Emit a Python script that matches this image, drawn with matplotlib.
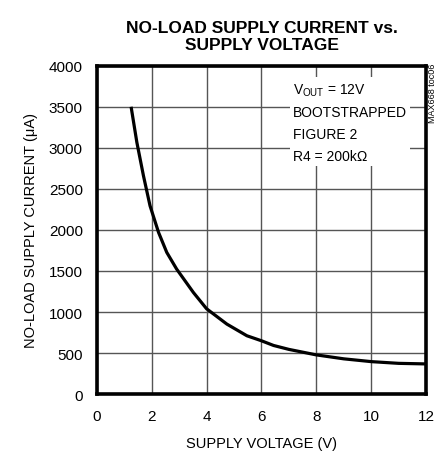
import numpy as np
import matplotlib.pyplot as plt

# supply voltage (V) vs no-load supply current (uA)
volts = [1.25, 1.46, 1.70, 1.94, 2.25, 2.55, 2.91, 3.52, 4.0, 4.74, 5.47, 6.0, 6.44, 7.0,
         8.0, 9.0, 10.0, 11.0, 12.0]
current = [3500, 3066, 2660, 2294, 1970, 1726, 1523, 1238, 1040, 853, 711, 650, 593, 545,
           478, 430, 396, 375, 368]

xticks = [0, 2, 4, 6, 8, 10, 12]
yticks = [0, 500, 1000, 1500, 2000, 2500, 3000, 3500, 4000]

fam = ['Liberation Sans', 'DejaVu Sans']

fig = plt.figure(figsize=(4.42, 4.60), dpi=100)
ax = fig.add_axes([0.219, 0.141, 0.745, 0.714])

ax.plot(volts, current, color='black', lw=2.3, solid_capstyle='butt', zorder=3)

ax.set_xlim(0, 12)
ax.set_ylim(0, 4000)
ax.set_xticks(xticks)
ax.set_yticks(yticks)
ax.grid(True, color='#555555', lw=1.0)
ax.tick_params(length=0, labelsize=11)
ax.tick_params(axis='x', pad=11)
ax.tick_params(axis='y', pad=10)
for lab in ax.get_xticklabels() + ax.get_yticklabels():
    lab.set_family(fam)
for s in ax.spines.values():
    s.set_linewidth(2.6)

ax.set_xlabel('SUPPLY VOLTAGE (V)', family=fam, fontsize=10.5, labelpad=9)
ax.set_ylabel('NO-LOAD SUPPLY CURRENT (μA)', family=fam, fontsize=10.5, labelpad=8)
ax.set_title('NO-LOAD SUPPLY CURRENT vs.\nSUPPLY VOLTAGE', family=fam, fontsize=12.5,
             fontweight='bold', pad=12, linespacing=1.15)

ax.text(7.15, 3810, 'V$_{\\mathregular{OUT}}$ = 12V\nBOOTSTRAPPED\nFIGURE 2\nR4 = 200kΩ',
        family=fam, fontsize=10, va='top', ha='left', linespacing=1.7, zorder=4,
        bbox=dict(facecolor='white', edgecolor='none', pad=2))

fig.text(0.978, 0.862, 'MAX668 toc06', rotation=90, family=fam, fontsize=6.5,
         ha='center', va='top')

fig.savefig('out.png', dpi=100)
